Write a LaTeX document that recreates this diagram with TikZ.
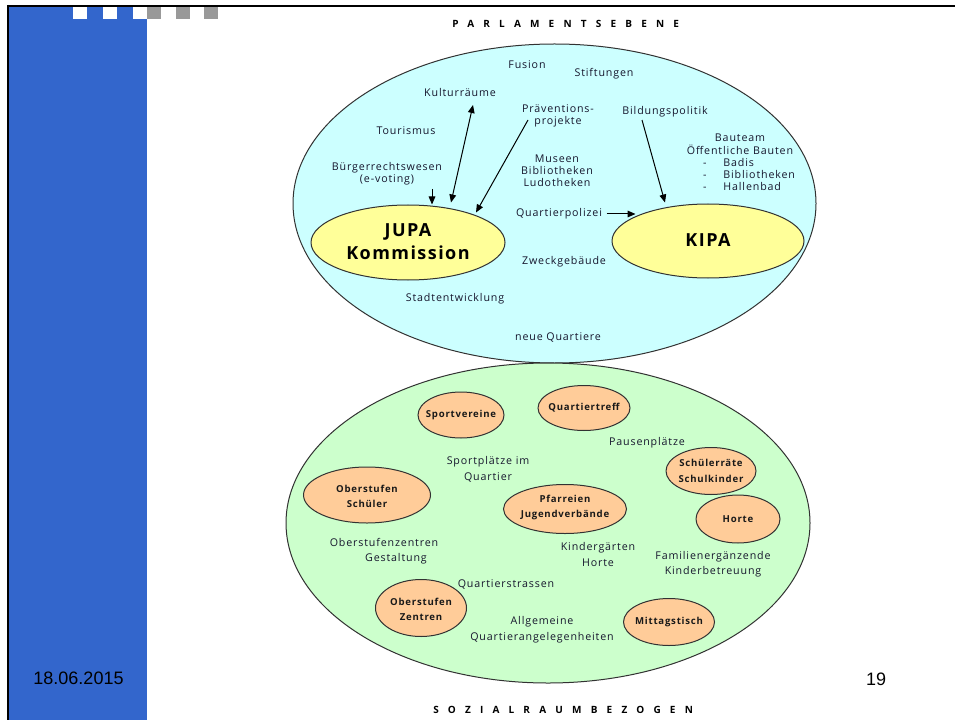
\documentclass[tikz,border=0pt]{standalone}
\usepackage{fontspec}
\setmainfont{Open Sans}[LetterSpace=8]
\newfontfamily\headfont{Open Sans}[LetterSpace=92]
\newfontfamily\footfont{Liberation Sans}
\usetikzlibrary{arrows.meta,shapes.geometric,calc}

\definecolor{barblue}{RGB}{51,102,204}
\definecolor{squaregray}{RGB}{153,153,153}
\definecolor{parlfill}{RGB}{204,255,255}
\definecolor{sozfill}{RGB}{204,255,204}
\definecolor{gremfill}{RGB}{255,255,153}
\definecolor{groupfill}{RGB}{255,204,153}
\definecolor{rimgray}{RGB}{50,50,50}
\definecolor{inktext}{RGB}{22,22,45}

\begin{document}
\begin{tikzpicture}[x=0.75pt,y=-0.75pt,
  esize/.style 2 args={minimum width=#1*0.75pt, minimum height=#2*0.75pt},
  bigell/.style={ellipse, draw=rimgray, line width=0.75pt, inner sep=0pt},
  gremium/.style={ellipse, draw=rimgray, line width=0.75pt, fill=gremfill, inner sep=0pt,
    font=\bfseries\fontsize{13.5}{17.25}\selectfont, align=center},
  grp/.style={ellipse, draw=rimgray, line width=0.75pt, fill=groupfill, inner sep=0pt},
  grptext/.style={font=\bfseries\fontsize{7.2}{11.6}\selectfont, text=black!90, align=center, inner sep=0pt},
  txt/.style={font=\fontsize{8}{9}\selectfont, text=inktext, align=center, inner sep=1pt},
  ltxt/.style={font=\fontsize{8}{11.6}\selectfont, text=inktext, align=center, inner sep=1pt},
  headtxt/.style={font=\headfont\bfseries\fontsize{7.5}{8}\selectfont, text=black, anchor=west, inner sep=0pt},
  foottxt/.style={font=\footfont\fontsize{13.5}{16}\selectfont, text=black, inner sep=0pt},
  arr/.style={-{Triangle[length=6pt,width=5pt]}, line width=0.75pt, black},
  arrboth/.style={{Triangle[length=6pt,width=5pt]}-{Triangle[length=6pt,width=5pt]}, line width=0.75pt, black}]

\useasboundingbox (0,0) rectangle (955,720);
\fill[white] (0,0) rectangle (955,720);

% slide frame: blue side bar with a row of squares on top
\fill[barblue] (9.3,7.3) rectangle (147,720);
\foreach \sx in {73,103.3,133.3}
  \fill[white] (\sx,7.3) rectangle ++(14,11.7);
\foreach \sx in {147,175.7,204}
  \fill[squaregray] (\sx,7.3) rectangle ++(14.3,11.7);
\draw[line width=1.7pt] (7,6.2) -- (955,6.2);
\draw[line width=1.7pt] (8.2,5) -- (8.2,720);

% level headings
\node[headtxt] (hparl) at (452,24) {PARLAMENTSEBENE};
\node[headtxt] (hsoz) at (433,710) {SOZIALRAUMBEZOGEN};

% footer
\node[foottxt] (date) at (78.5,678.5) {18.06.2015};
\node[foottxt] (page) at (876,679) {19};

% the two large areas
\node[bigell, fill=parlfill, esize={523}{319}] (parl) at (554.5,203.5) {};
\node[bigell, fill=sozfill, esize={524}{320}] (soz) at (548,523) {};

% parliaments
\node[gremium, esize={194}{75}] (jupa) at (408,242.5) {\raisebox{2pt}{JUPA}\\\raisebox{2pt}{Kommission}};
\node[gremium, esize={192}{74}] (kipa) at (708,241) {\raisebox{1.5pt}{KIPA}};

% topics on parliament level
\node[txt] (fusion) at (527,65) {Fusion};
\node[txt] (stift) at (604,74) {Stiftungen};
\node[txt] (kultur) at (460,93) {Kulturräume};
\node[txt] (praev) at (558,116) {Präventions-\\projekte};
\node[txt] (bild) at (665,112) {Bildungspolitik};
\node[txt] (tour) at (406,131) {Tourismus};
\node[txt] (museen) at (557,170.5) {Museen\\Bibliotheken\\Ludotheken};
\node[txt] (buerger) at (387,174) {Bürgerrechtswesen\\(e-voting)};
\node[txt] (bau) at (740,164) {%
  \begin{tabular}{@{\hspace{13.5pt}}c@{\hspace{12.75pt}}l@{}}
    \multicolumn{2}{@{}c@{}}{Bauteam}\\
    \multicolumn{2}{@{}c@{}}{Öffentliche Bauten}\\
    - & Badis\\
    - & Bibliotheken\\
    - & Hallenbad
  \end{tabular}};
\node[txt] (qp) at (559,214) {Quartierpolizei};
\node[txt] (zweck) at (564,262) {Zweckgebäude};
\node[txt] (stadt) at (455,299) {Stadtentwicklung};
\node[txt] (neue) at (558,337) {neue Quartiere};

% connections into the parliaments
\draw[arr] ($(buerger.center)+(45,15)$) -- ($(jupa.north)+(24,0)$);
\draw[arrboth] ($(kultur.center)+(13,12)$) -- ($(jupa.north)+(43,-2)$);
\draw[arr] ($(praev.center)+(-30,4)$) -- ($(jupa.north)+(68,8)$);
\draw[arr] ($(bild.center)+(-23,8)$) -- ($(kipa.north)+(-43,-1)$);
\coordinate (qpend) at ($(kipa.west)+(24,-28)$);
\draw[arr] ($(qp.east)+(3,0)$) -- (qp.east -| qpend);

% groups in the social space
\node[grp, esize={86}{46}, label={[grptext]center:Sportvereine}] (sport) at (461,415) {};
\node[grp, esize={92}{45}, label={[grptext]center:Quartiertreff}] (treff) at (584,408) {};
\node[grp, esize={90}{47}, label={[grptext]center:{Schülerräte\\Schulkinder}}] (sraete) at (711,471) {};
\node[grp, esize={127}{56}, label={[grptext,yshift=-1pt]center:{Oberstufen\\Schüler}}] (oschueler) at (367,495) {};
\node[grp, esize={123}{49}, label={[grptext,yshift=1pt]center:{Pfarreien\\Jugendverbände}}] (pfarr) at (565,509) {};
\node[grp, esize={84}{48}, label={[grptext]center:Horte}] (horte) at (738,519) {};
\node[grp, esize={91}{57}, label={[grptext,yshift=-1pt]center:{Oberstufen\\Zentren}}] (ozentren) at (421,608) {};
\node[grp, esize={91}{47}, label={[grptext]center:Mittagstisch}] (mittag) at (669,622) {};

% topics in the social space
\node[ltxt] (pause) at (647,443) {Pausenplätze};
\node[ltxt] (splatz) at (488,469.5) {Sportplätze im\\Quartier};
\node[ltxt] (ozgest) at (384,551) {Oberstufenzentren\\\hspace*{18pt}Gestaltung};
\node[ltxt] (kiga) at (598,554.5) {Kindergärten\\Horte};
\node[ltxt] (fam) at (713,564) {Familienergänzende\\Kinderbetreuung};
\node[ltxt] (qstr) at (506,584) {Quartierstrassen};
\node[ltxt] (allg) at (542,629.5) {Allgemeine\\Quartierangelegenheiten};

\end{tikzpicture}
\end{document}
